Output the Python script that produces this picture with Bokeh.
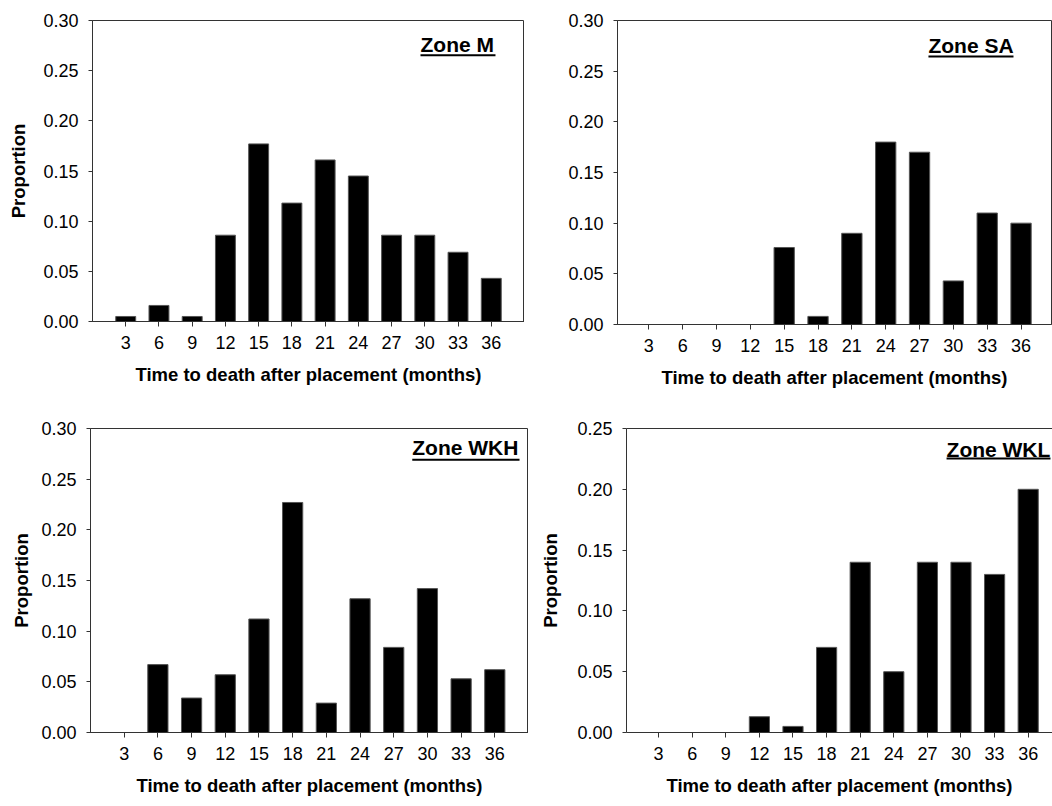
import math
from bokeh.plotting import figure
from bokeh.layouts import column, row
from bokeh.models import FixedTicker, PrintfTickFormatter, Label, LinearAxis, Range1d
from bokeh.embed import file_html
from bokeh.resources import INLINE

# ---------------- data ----------------
months = [3, 6, 9, 12, 15, 18, 21, 24, 27, 30, 33, 36]
zone_m = [0.005, 0.016, 0.005, 0.086, 0.177, 0.118, 0.161, 0.145, 0.086, 0.086, 0.069, 0.043]
zone_sa = [0.0, 0.0, 0.0, 0.0, 0.076, 0.008, 0.090, 0.180, 0.170, 0.043, 0.110, 0.100]
zone_wkh = [0.0, 0.067, 0.034, 0.057, 0.112, 0.227, 0.029, 0.132, 0.084, 0.142, 0.053, 0.062]
zone_wkl = [0.0, 0.0, 0.0, 0.013, 0.005, 0.070, 0.140, 0.050, 0.140, 0.140, 0.130, 0.200]
y_ticks_030 = [0.0, 0.05, 0.10, 0.15, 0.20, 0.25, 0.30]
y_ticks_025 = [0.0, 0.05, 0.10, 0.15, 0.20, 0.25]
titles = ["Zone M", "Zone SA", "Zone WKH", "Zone WKL"]
x_label = "Time to death after placement (months)"
y_label = "Proportion"

FONT = "Liberation Sans"
AX = "#333333"


def panel(values, title, ymax, yticks, fw, fh, bl, bt, br, bb, x0, x1,
          ylab_standoff, tx0, tx1, ty, uy, outline=True, ylab_free=None):
    p = figure(frame_width=fw, frame_height=fh,
               x_range=Range1d(x0, x1), y_range=Range1d(0, ymax),
               output_backend="svg", toolbar_location=None,
               min_border_left=bl, min_border_top=bt,
               min_border_right=br, min_border_bottom=bb,
               background_fill_color="white", border_fill_color="white")
    p.grid.visible = False
    p.outline_line_color = AX if outline else None
    p.outline_line_width = 1

    p.vbar(x=months, top=values, width=1.8, fill_color="black",
           line_color="#555555", line_width=1)

    xa = p.xaxis[0]
    xa.ticker = FixedTicker(ticks=months)
    xa.axis_label = x_label
    ya = p.yaxis[0]
    ya.ticker = FixedTicker(ticks=yticks)
    ya.formatter = PrintfTickFormatter(format="%.2f")
    for a in (xa, ya):
        a.axis_line_color = AX
        a.major_tick_line_color = AX
        a.minor_tick_line_color = None
        a.major_tick_in = 0
        a.major_label_text_font = FONT
        a.major_label_text_font_size = "18px"
        a.major_label_text_color = "black"
        a.axis_label_text_font = FONT
        a.axis_label_text_font_size = "18.5px"
        a.axis_label_text_font_style = "bold"
        a.axis_label_text_color = "black"
    xa.major_tick_out = 5
    xa.major_label_standoff = 9
    xa.axis_label_standoff = 12
    ya.major_tick_out = 4
    ya.major_label_standoff = 10
    if ylab_free is None:
        ya.axis_label = y_label
        ya.axis_label_standoff = ylab_standoff
    else:
        # y-axis title placed off-centre, as in the original panel
        p.add_layout(Label(x=-ylab_free[0], x_units="screen", y=ylab_free[1],
                           text=y_label, angle=math.pi / 2,
                           text_font=FONT, text_font_size="18.5px",
                           text_font_style="bold", text_align="center",
                           text_baseline="middle", text_color="black"))

    if not outline:
        top = LinearAxis(ticker=FixedTicker(ticks=[]), major_label_text_font_size="0px",
                         major_tick_line_color=None, minor_tick_line_color=None,
                         axis_line_color=AX)
        p.add_layout(top, "above")

    p.add_layout(Label(x=tx0, y=ty, text=title, text_font=FONT,
                       text_font_size="21px", text_font_style="bold",
                       text_baseline="middle", text_align="left",
                       text_color="black"))
    p.line(x=[tx0, tx1], y=[uy, uy], line_color="black", line_width=2)
    return p


p1 = panel(zone_m, titles[0], 0.30, y_ticks_030, 432, 301, 92, 17, 0, 82,
           0, 39, 11, 29.61, 36.38, 0.2761, 0.2654)
p2 = panel(zone_sa, titles[1], 0.30, y_ticks_030, 434, 304, 93, 20, 1, 76,
           0.22, 38.70, 11, 27.79, 35.33, 0.2753, 0.2645,
           ylab_free=(73, 0.1618))
p3 = panel(zone_wkh, titles[2], 0.30, y_ticks_030, 438, 304, 90, 28, 0, 74,
           0, 39, 6, 28.65, 38.20, 0.2808, 0.2691)
p4 = panel(zone_wkl, titles[3], 0.25, y_ticks_025, 426, 304, 98, 23, 0, 79,
           0.134, 38.17, 13, 28.71, 37.99, 0.2327, 0.2253, outline=False)

layout = column(row(p1, p2, spacing=0), row(p3, p4, spacing=0), spacing=0)

open("out.html", "w").write(file_html(layout, INLINE))
